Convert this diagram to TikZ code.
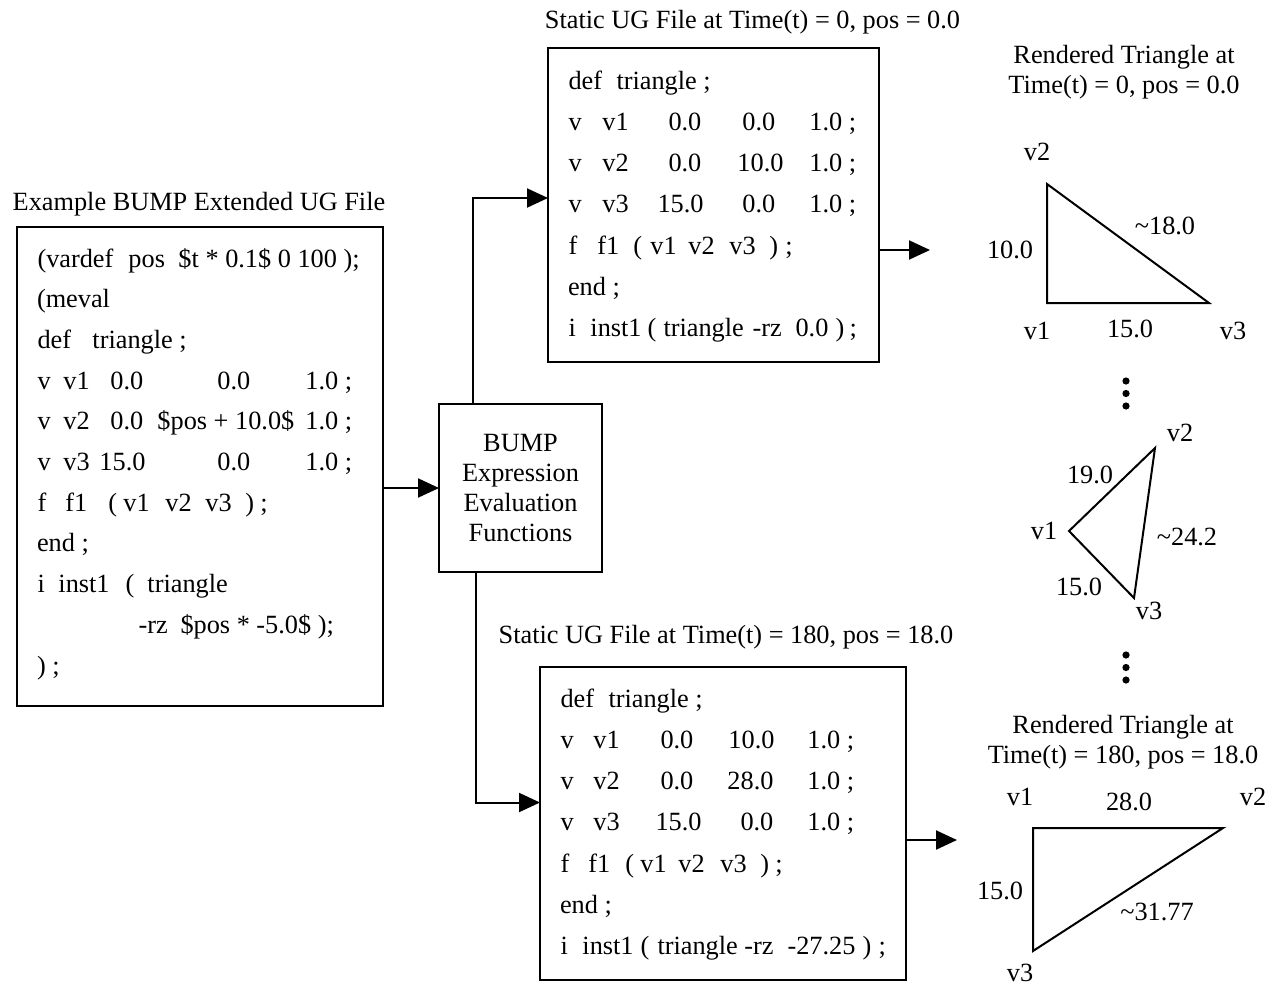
\documentclass[tikz,border=0pt]{standalone}
\usepackage{fontspec}
\setmainfont{Liberation Serif}
\usetikzlibrary{arrows.meta}
% place a piece of text at a fixed offset from the start of its line
\newcommand\tokat[2]{\makebox[0pt][l]{\hspace*{#1pt}#2}}

\begin{document}
\begin{tikzpicture}[x=1pt,y=-1pt,
  every node/.style={font=\fontsize{26.3}{30.3}\selectfont, inner sep=0pt, outer sep=0pt},
  codebox/.style={draw, line width=2pt},
  codeline/.style={anchor=base west},
  ttl/.style={anchor=base},
  lbl/.style={anchor=center},
  arr/.style={line width=2pt, -{Triangle[length=21pt,width=19pt]}},
  tri/.style={line width=2pt, line join=miter},
  dot/.style={fill=black}]

\fill[white] (0,0) rectangle (1276,986);
\useasboundingbox (0,0) rectangle (1276,986);

% ---------- extended UG file ----------
\node[ttl] (srcTitle) at (199,210) {Example BUMP Extended UG File};
\node[codebox, minimum width=366pt, minimum height=479pt] (srcbox) at (200,466.5) {};
\node[codeline] (lb1)  at (37,267.0) {\tokat{0}{(vardef}\tokat{91}{pos}\tokat{141}{\$t * 0.1\$ 0 100 );}};
\node[codeline] (lb2)  at (37,307.7) {(meval};
\node[codeline] (lb3)  at (37,348.4) {\tokat{0}{def}\tokat{55}{triangle ;}};
\node[codeline] (lb4)  at (37,389.1) {\tokat{0}{v}\tokat{26}{v1}\tokat{73}{0.0}\tokat{180}{0.0}\tokat{268}{1.0 ;}};
\node[codeline] (lb5)  at (37,429.8) {\tokat{0}{v}\tokat{26}{v2}\tokat{73}{0.0}\tokat{120}{\$pos + 10.0\$}\tokat{268}{1.0 ;}};
\node[codeline] (lb6)  at (37,470.5) {\tokat{0}{v}\tokat{26}{v3}\tokat{62}{15.0}\tokat{180}{0.0}\tokat{268}{1.0 ;}};
\node[codeline] (lb7)  at (37,511.2) {\tokat{0}{f}\tokat{28}{f1}\tokat{71}{(}\tokat{86}{v1}\tokat{128}{v2}\tokat{168}{v3}\tokat{208}{)}\tokat{223}{;}};
\node[codeline] (lb8)  at (37,551.9) {end ;};
\node[codeline] (lb9)  at (37,592.6) {\tokat{0}{i}\tokat{21}{inst1}\tokat{88}{(}\tokat{110}{triangle}};
\node[codeline] (lb10) at (37,633.3) {\tokat{101}{-rz}\tokat{143}{\$pos * -5.0\$ );}};
\node[codeline] (lb11) at (37,674.0) {) ;};

% ---------- evaluation step ----------
\node[codebox, minimum width=163pt, minimum height=168pt, align=center] (bump) at (520.5,488)
  {BUMP\\Expression\\Evaluation\\Functions};

% ---------- static file at t = 0 ----------
\node[ttl] (topTitle) at (752.5,28) {Static UG File at Time(t) = 0, pos = 0.0};
\node[codebox, minimum width=331pt, minimum height=314pt] (topbox) at (713.5,205) {};
\node[codeline] (tb1) at (568,89.0)  {\tokat{0}{def}\tokat{48}{triangle ;}};
\node[codeline] (tb2) at (568,130.3) {\tokat{0}{v}\tokat{34}{v1}\tokat{100}{0.0}\tokat{174}{0.0}\tokat{241}{1.0 ;}};
\node[codeline] (tb3) at (568,171.6) {\tokat{0}{v}\tokat{34}{v2}\tokat{100}{0.0}\tokat{169}{10.0}\tokat{241}{1.0 ;}};
\node[codeline] (tb4) at (568,212.9) {\tokat{0}{v}\tokat{34}{v3}\tokat{89}{15.0}\tokat{174}{0.0}\tokat{241}{1.0 ;}};
\node[codeline] (tb5) at (568,254.2) {\tokat{0}{f}\tokat{29}{f1}\tokat{65}{(}\tokat{82}{v1}\tokat{120}{v2}\tokat{161}{v3}\tokat{201}{)}\tokat{217}{;}};
\node[codeline] (tb6) at (568,295.5) {end ;};
\node[codeline] (tb7) at (568,336.8) {\tokat{0}{i}\tokat{22}{inst1}\tokat{79}{(}\tokat{95}{triangle}\tokat{184}{-rz}\tokat{227}{0.0}\tokat{267}{)}\tokat{281}{;}};

% ---------- static file at t = 180 ----------
\node[ttl] (botTitle) at (726,643) {Static UG File at Time(t) = 180, pos = 18.0};
\node[codebox, minimum width=366pt, minimum height=313pt] (botbox) at (723,823.5) {};
\node[codeline] (bb1) at (560,707.0) {\tokat{0}{def}\tokat{48}{triangle ;}};
\node[codeline] (bb2) at (560,748.3) {\tokat{0}{v}\tokat{33}{v1}\tokat{100}{0.0}\tokat{168}{10.0}\tokat{247}{1.0 ;}};
\node[codeline] (bb3) at (560,789.6) {\tokat{0}{v}\tokat{33}{v2}\tokat{100}{0.0}\tokat{167}{28.0}\tokat{247}{1.0 ;}};
\node[codeline] (bb4) at (560,830.9) {\tokat{0}{v}\tokat{33}{v3}\tokat{95}{15.0}\tokat{180}{0.0}\tokat{247}{1.0 ;}};
\node[codeline] (bb5) at (560,872.2) {\tokat{0}{f}\tokat{28}{f1}\tokat{65}{(}\tokat{80}{v1}\tokat{118}{v2}\tokat{160}{v3}\tokat{200}{)}\tokat{215}{;}};
\node[codeline] (bb6) at (560,913.5) {end ;};
\node[codeline] (bb7) at (560,954.8) {\tokat{0}{i}\tokat{22}{inst1}\tokat{80}{(}\tokat{97}{triangle -rz}\tokat{227}{-27.25}\tokat{302}{)}\tokat{318}{;}};

% ---------- connectors ----------
\coordinate (outTop) at (930,250);
\coordinate (outBot) at (957,840);
\draw[arr] (bump.west -| srcbox.east) -- (bump.west);
\draw[arr] ([xshift=-47.5pt]bump.north) |- ([yshift=7pt]topbox.west);
\draw[arr] ([xshift=-45pt]bump.south) |- ([yshift=21pt]botbox.west);
\draw[arr] ([yshift=-45pt]topbox.east) -- (outTop);
\draw[arr] ([yshift=-16.5pt]botbox.east) -- (outBot);

% ---------- rendered triangle, t = 0 ----------
\node[ttl] (r1a) at (1124,63) {Rendered Triangle at};
\node[ttl] (r1b) at (1124,93) {Time(t) = 0, pos = 0.0};
\coordinate (p1) at (1047,303);
\coordinate (p2) at (1047,184);
\coordinate (p3) at (1209,303);
\draw[tri] (p1) -- (p2) -- (p3) -- cycle;
\node[lbl] (p2n) at (1037,152) {v2};
\node[lbl] (e12) at (1010,250) {10.0};
\node[lbl] (e23) at (1165,226) {\textasciitilde18.0};
\node[lbl] (p1n) at (1037,331) {v1};
\node[lbl] (e13) at (1130,329) {15.0};
\node[lbl] (p3n) at (1233,331) {v3};

% ---------- intermediate frame ----------
\foreach \yy in {381,393.5,406} \fill[dot] (1126,\yy) circle (3.6pt);
\coordinate (q1) at (1069,531);
\coordinate (q2) at (1155,448);
\coordinate (q3) at (1134,598);
\draw[tri] (q1) -- (q2) -- (q3) -- cycle;
\node[lbl] (q2n) at (1180,433) {v2};
\node[lbl] (f12) at (1090,475) {19.0};
\node[lbl] (q1n) at (1044,531) {v1};
\node[lbl] (f23) at (1187,537) {\textasciitilde24.2};
\node[lbl] (f13) at (1079,587) {15.0};
\node[lbl] (q3n) at (1149,611) {v3};
\foreach \yy in {655,667.5,680} \fill[dot] (1126,\yy) circle (3.6pt);

% ---------- rendered triangle, t = 180 ----------
\node[ttl] (r2a) at (1123,733) {Rendered Triangle at};
\node[ttl] (r2b) at (1123,763) {Time(t) = 180, pos = 18.0};
\coordinate (s1) at (1033,828);
\coordinate (s2) at (1223,828);
\coordinate (s3) at (1033,951);
\draw[tri] (s1) -- (s2) -- (s3) -- cycle;
\node[lbl] (s1n) at (1020,797) {v1};
\node[lbl] (g12) at (1129,802) {28.0};
\node[lbl] (s2n) at (1253,797) {v2};
\node[lbl] (g13) at (1000,891) {15.0};
\node[lbl] (g23) at (1157,912) {\textasciitilde31.77};
\node[lbl] (s3n) at (1020,973) {v3};

\end{tikzpicture}
\end{document}
